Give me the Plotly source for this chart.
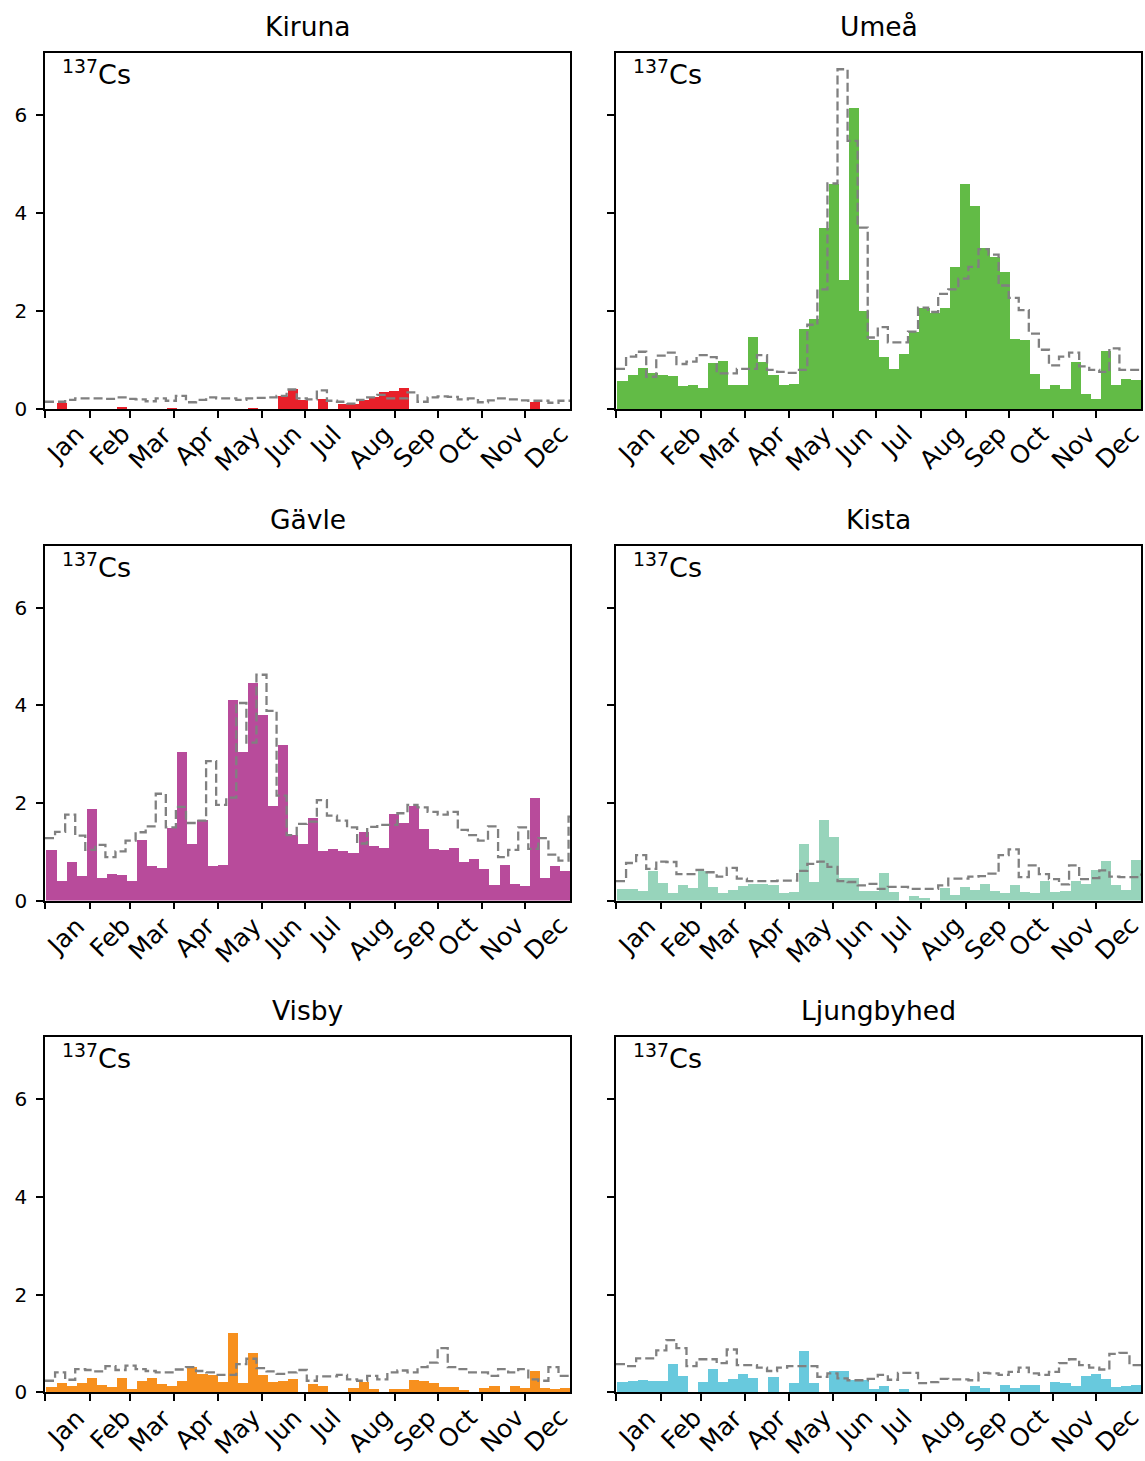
import pandas as pd
import plotly.graph_objects as go

# ---------------- data ----------------
months = ["Jan", "Feb", "Mar", "Apr", "May", "Jun", "Jul", "Aug", "Sep", "Oct", "Nov", "Dec"]
month_starts = pd.date_range("2019-01-01", periods=12, freq="MS")
month_label_dates = month_starts + pd.Timedelta(days=14)

stations = ["Kiruna", "Umeå", "Gävle", "Kista", "Visby", "Ljungbyhed"]
colors = ["#e8202a", "#62bb46", "#b84b9b", "#97d4bb", "#f7901e", "#68c9dd"]

# weekly values of the year (bars)
kiruna = [0, 0.14, 0, 0, 0, 0, 0, 0.06, 0, 0, 0, 0, 0.02, 0, 0, 0, 0, 0, 0, 0,
          0.04, 0, 0, 0.27, 0.41, 0.20, 0, 0.22, 0, 0.11, 0.11, 0.20, 0.25, 0.36, 0.38, 0.43,
          0, 0, 0, 0, 0, 0, 0, 0, 0, 0, 0, 0, 0.15, 0, 0, 0]
umea = [0.58, 0.71, 0.85, 0.74, 0.70, 0.68, 0.48, 0.50, 0.44, 0.95, 0.98, 0.50, 0.50,
        1.47, 0.97, 0.70, 0.50, 0.52, 1.64, 1.85, 3.70, 4.60, 2.65, 6.15, 2.00, 1.41,
        1.07, 0.82, 1.14, 1.58, 2.08, 1.97, 2.07, 2.90, 4.60, 4.15, 3.30, 3.12, 2.80,
        1.43, 1.41, 0.73, 0.42, 0.51, 0.42, 0.97, 0.32, 0.22, 1.20, 0.50, 0.62, 0.60]
gavle = [1.04, 0.40, 0.80, 0.50, 1.87, 0.46, 0.55, 0.52, 0.40, 1.24, 0.70, 0.66, 1.48,
         3.05, 1.15, 1.66, 0.70, 0.72, 4.12, 3.05, 4.47, 3.80, 1.93, 3.20, 1.34, 1.17,
         1.70, 1.02, 1.06, 1.02, 0.97, 1.40, 1.12, 1.07, 1.77, 1.59, 1.94, 1.47, 1.05,
         1.04, 1.07, 0.80, 0.85, 0.64, 0.31, 0.72, 0.34, 0.30, 2.11, 0.47, 0.70, 0.60]
kista = [0.24, 0.24, 0.20, 0.60, 0.37, 0.15, 0.31, 0.25, 0.61, 0.27, 0.15, 0.22, 0.29,
         0.33, 0.33, 0.31, 0.15, 0.18, 1.16, 0.38, 1.65, 1.31, 0.47, 0.47, 0.19, 0.19,
         0.56, 0.17, 0, 0.10, 0.05, 0, 0.26, 0.12, 0.28, 0.21, 0.33, 0.19, 0.15,
         0.31, 0.18, 0.15, 0.40, 0.17, 0.20, 0.40, 0.33, 0.63, 0.81, 0.31, 0.22, 0.83]
visby = [0.11, 0.19, 0.13, 0.18, 0.29, 0.15, 0.11, 0.29, 0.06, 0.22, 0.29, 0.16, 0.13,
         0.22, 0.51, 0.36, 0.34, 0.20, 1.20, 0.19, 0.81, 0.34, 0.21, 0.22, 0.27, 0,
         0.17, 0.12, 0, 0, 0.08, 0.20, 0.06, 0, 0.07, 0.07, 0.25, 0.23, 0.19,
         0.10, 0.11, 0.04, 0, 0.09, 0.13, 0, 0.13, 0.08, 0.43, 0.09, 0.06, 0.08]
ljungbyhed = [0.20, 0.22, 0.25, 0.22, 0.22, 0.58, 0.33, 0, 0.21, 0.47, 0.20, 0.27, 0.36,
              0.29, 0, 0.31, 0, 0.18, 0.84, 0.19, 0, 0.43, 0.43, 0.25, 0.25, 0.07,
              0.12, 0, 0.06, 0, 0, 0, 0, 0, 0, 0.13, 0.09, 0, 0.15,
              0.09, 0.15, 0.15, 0, 0.20, 0.18, 0.13, 0.33, 0.36, 0.27, 0.11, 0.12, 0.15]

# reference level (dashed step line)
kiruna_ref = [0.15, 0.15, 0.19, 0.22, 0.22, 0.22, 0.21, 0.24, 0.21, 0.20, 0.16, 0.22, 0.17,
              0.27, 0.14, 0.19, 0.24, 0.22, 0.22, 0.19, 0.22, 0.23, 0.24, 0.27, 0.40, 0.22,
              0.20, 0.38, 0.17, 0.15, 0.11, 0.19, 0.24, 0.29, 0.22, 0.22, 0.34, 0.15, 0.24,
              0.26, 0.25, 0.20, 0.22, 0.14, 0.18, 0.22, 0.20, 0.18, 0.17, 0.17, 0.13, 0.17, 0.17]
umea_ref = [0.82, 1.07, 1.17, 0.66, 1.09, 1.15, 0.92, 0.97, 1.10, 1.06, 0.73, 0.73, 0.82,
            0.82, 1.10, 0.80, 0.76, 0.74, 0.80, 1.72, 2.44, 4.60, 6.93, 5.47, 3.70, 1.46,
            1.67, 1.36, 1.36, 1.58, 2.07, 1.98, 2.35, 2.44, 2.66, 2.90, 3.26, 3.15, 2.52,
            2.27, 2.02, 1.54, 1.21, 0.89, 1.07, 1.15, 0.87, 0.80, 0.76, 1.24, 0.80, 0.80, 0.80]
gavle_ref = [1.28, 1.41, 1.76, 1.33, 1.04, 1.14, 0.89, 1.01, 1.23, 1.40, 1.52, 2.19, 1.50,
             1.92, 1.59, 1.64, 2.86, 1.96, 2.11, 4.05, 3.24, 4.63, 3.89, 2.15, 1.34, 1.57,
             1.62, 2.06, 1.74, 1.64, 1.50, 1.17, 1.51, 1.55, 1.55, 1.79, 1.96, 1.91, 1.82,
             1.76, 1.82, 1.45, 1.34, 1.23, 1.52, 0.89, 1.04, 1.50, 1.06, 1.28, 0.94, 0.82, 1.72]
kista_ref = [0.40, 0.77, 0.93, 0.65, 0.80, 0.79, 0.54, 0.54, 0.63, 0.58, 0.49, 0.67, 0.45,
             0.40, 0.40, 0.40, 0.41, 0.41, 0.61, 0.75, 0.80, 0.69, 0.40, 0.38, 0.31, 0.34,
             0.24, 0.28, 0.28, 0.24, 0.24, 0.24, 0.31, 0.45, 0.45, 0.49, 0.50, 0.55, 0.93,
             1.05, 0.48, 0.72, 0.54, 0.44, 0.33, 0.72, 0.44, 0.46, 0.62, 0.49, 0.48, 0.48, 0.53]
visby_ref = [0.24, 0.41, 0.26, 0.48, 0.46, 0.43, 0.54, 0.46, 0.55, 0.48, 0.44, 0.41, 0.41,
             0.47, 0.52, 0.44, 0.41, 0.36, 0.36, 0.58, 0.69, 0.50, 0.43, 0.38, 0.41, 0.46,
             0.24, 0.33, 0.33, 0.36, 0.27, 0.24, 0.34, 0.27, 0.41, 0.45, 0.41, 0.52, 0.61,
             0.91, 0.52, 0.48, 0.41, 0.41, 0.34, 0.48, 0.41, 0.48, 0.27, 0.24, 0.52, 0.34, 0.34]
ljungbyhed_ref = [0.58, 0.54, 0.70, 0.70, 0.86, 1.07, 0.91, 0.54, 0.68, 0.68, 0.60, 0.88, 0.56,
                  0.56, 0.51, 0.44, 0.51, 0.54, 0.54, 0.54, 0.32, 0.39, 0.29, 0.25, 0.25, 0.28,
                  0.36, 0.26, 0.40, 0.40, 0.19, 0.21, 0.28, 0.27, 0.27, 0.25, 0.40, 0.39, 0.36,
                  0.42, 0.51, 0.39, 0.36, 0.42, 0.60, 0.68, 0.56, 0.51, 0.47, 0.79, 0.81, 0.56, 0.56]

bar_series = [kiruna, umea, gavle, kista, visby, ljungbyhed]
ref_series = [kiruna_ref, umea_ref, gavle_ref, kista_ref, visby_ref, ljungbyhed_ref]

week_starts = pd.date_range("2019-01-02", periods=52, freq="7D")
week_centers = week_starts + pd.Timedelta(hours=84)
ref_edges = list(pd.date_range("2019-01-01", periods=53, freq="7D")) + [pd.Timestamp("2020-01-01")]
week_ms = 7 * 24 * 3600 * 1000

# ---------------- layout geometry ----------------
W, H = 1145, 1461
col_px = [(45, 570), (616, 1141)]
row_px = [(53, 412.5), (550.5, 908), (1046, 1404)]

FONT = "DejaVu Sans"
fig = go.Figure()
annotations = []
layout = dict(
    width=W, height=H, margin=dict(l=0, r=0, t=0, b=0),
    paper_bgcolor="white", plot_bgcolor="white", showlegend=False,
    font=dict(family=FONT, color="black"),
)

for i, name in enumerate(stations):
    r, c = divmod(i, 2)
    n = i + 1
    xa = "x" if n == 1 else f"x{n}"
    ya = "y" if n == 1 else f"y{n}"
    x0, x1 = col_px[c]
    y0, y1 = row_px[r]

    fig.add_trace(go.Bar(
        x=week_centers, y=bar_series[i], width=[week_ms] * 52,
        marker=dict(color=colors[i], line=dict(width=0)),
        xaxis=xa, yaxis=ya, hoverinfo="skip",
    ))
    ref = ref_series[i]
    fig.add_trace(go.Scatter(
        x=ref_edges, y=ref + [ref[-1]], mode="lines",
        line=dict(color="#808080", width=2.3, dash="9px,4px", shape="hv"),
        xaxis=xa, yaxis=ya, hoverinfo="skip",
    ))

    layout[f"xaxis{n}" if n > 1 else "xaxis"] = dict(
        domain=[x0 / W, x1 / W], anchor=ya, type="date",
        range=["2019-01-01", "2020-01-01"],
        tickmode="array", tickvals=list(month_starts), showticklabels=False,
        ticks="outside", ticklen=7, tickwidth=1.5, tickcolor="black",
        showline=True, mirror=True, linecolor="black", linewidth=1.5,
        showgrid=False, zeroline=False,
    )
    layout[f"yaxis{n}" if n > 1 else "yaxis"] = dict(
        domain=[1 - y1 / H, 1 - y0 / H], anchor=xa,
        range=[0, 7.27], tickmode="array", tickvals=[0, 2, 4, 6],
        showticklabels=(c == 0), tickfont=dict(size=20, family=FONT),
        ticks="outside", ticklen=7, tickwidth=1.5, tickcolor="black",
        ticklabelstandoff=5,
        showline=True, mirror=True, linecolor="black", linewidth=1.5,
        showgrid=False, zeroline=False,
    )

    annotations.append(dict(
        text=name, xref=f"{xa} domain", yref=f"{ya} domain", x=0.5, y=1,
        xanchor="center", yanchor="bottom", yshift=9, showarrow=False,
        font=dict(size=26.5, family=FONT),
    ))
    annotations.append(dict(
        text="<sup>137</sup>Cs", xref=f"{xa} domain", yref=f"{ya} domain",
        x=15 / (x1 - x0), y=1, xanchor="left", yanchor="top", yshift=0,
        showarrow=False, font=dict(size=27, family=FONT),
    ))
    for m, d in zip(months, month_label_dates):
        annotations.append(dict(
            text=m, xref=xa, yref=f"{ya} domain", x=d, y=0,
            xanchor="center", yanchor="top", yshift=-8, textangle=-45,
            showarrow=False, font=dict(size=25, family=FONT),
        ))

layout["annotations"] = annotations
layout["bargap"] = 0
fig.update_layout(**layout)
fig.write_html(
    "out.html",
    config={"displayModeBar": False},
    post_script="document.body.style.margin='0';document.body.style.padding='0';",
)
